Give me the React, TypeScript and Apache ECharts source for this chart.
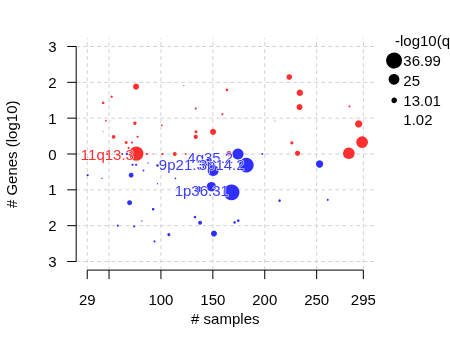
import React, { useEffect, useRef } from "react";
import * as echarts from "echarts";

// ---- data ----
const xTicks = [29, 50, 100, 150, 200, 250, 295];
const xTickLabels = ["29", "", "100", "150", "200", "250", "295"];
const yTicks = [-3, -2, -1, 0, 1, 2, 3];
const yTickLabels = ["3", "2", "1", "0", "1", "2", "3"];

// amplifications (red): # samples, log10(# genes), -log10(q)
const ampX = [76, 122, 52.5, 44.4, 133.5, 159.2, 47, 74.9, 100.8, 44.4, 150.2, 133.8, 54.4, 77.5, 133.5, 66.5, 72, 76.3, 86.4, 92.5, 101.5, 113.3, 123.9, 68.8, 223.6, 233.8, 233.5, 163.6, 209.8, 281.6, 290.5, 293.8, 226.1, 231.6, 281, 165.5, 48.4];
const ampY = [1.88, 1.91, 1.6, 1.43, 1.27, 1.11, 0.93, 0.86, 0.8, 0.62, 0.62, 0.62, 0.48, 0.48, 0.48, 0.32, 0.32, 0.01, 0, 0, 0, 0, 0, 0.17, 2.15, 1.71, 1.31, 1.79, 0.92, 1.33, 0.84, 0.33, 0.31, 0.02, 0.02, 0.02, 0];
const ampQ = [14, 2.5, 5.5, 6, 5, 5, 4, 8, 4, 2, 14, 7, 8.5, 5, 10, 7, 5, 33, 5, 2.5, 5, 9, 4, 5, 13, 15, 14, 6, 1.5, 5, 17, 27, 7, 12, 27, 11, 5];

// deletions (blue): # samples, -log10(# genes), -log10(q)
const delX = [67.2, 57.6, 62.7, 72.7, 76.1, 83.2, 87.6, 29.4, 43.1, 71.3, 96.7, 96.7, 114, 69.8, 92.5, 81.6, 58.5, 74.2, 93.8, 107.6, 132.8, 137.7, 151.1, 136, 148.6, 168, 182.3, 174.2, 150.2, 145.6, 171, 174.5, 214.3, 260.7, 252.8, 197.6, 165.5];
const delY = [0, 0, 0, -0.3, -0.3, -0.46, -0.25, -0.59, -0.68, -0.59, -0.32, -0.83, -0.68, -1.36, -1.54, -1.87, -2.0, -2.02, -2.44, -2.25, -1.76, -1.92, -2.22, -0.98, -0.91, -1.07, -0.31, 0, -0.46, -0.23, -1.91, -1.86, -1.3, -1.28, -0.28, 0, 0];
const delQ = [5, 4, 4, 5, 5, 4, 3, 5, 3, 11, 6, 3, 3.5, 11.5, 6, 3, 5, 5, 5, 7, 6, 9, 14, 14, 22, 36.99, 34, 26, 26, 18, 6, 6, 6, 5, 17, 4, 5];

// peak labels
const ampLabels = ["11q13.3"];
const ampLabelX = [48.4];
const ampLabelY = [0];
const delLabels = ["4q35.2", "9p21.3", "3p14.2", "1p36.31"];
const delLabelX = [147.5, 120.1, 158.5, 139.3];
const delLabelY = [-0.11, -0.29, -0.29, -1.02];

const legendValues = [36.99, 25, 13.01, 1.02];
const legendLabels = ["36.99", "25", "13.01", "1.02"];

// ---- styling ----
const X_MIN = 18.36, X_MAX = 305.64, Y_MIN = -3.24, Y_MAX = 3.24;
const RED = "#ff2f2f";
const BLUE = "#2f2fff";
const FONT = "Liberation Sans, Arial, sans-serif";
const FS = 15;
const sizeOf = (v: number) => Math.max(1, 0.43 * v);

export default function App() {
  const ref = useRef<HTMLDivElement>(null);
  useEffect(() => {
    if (!ref.current) return;
    const chart = echarts.init(ref.current, undefined, { renderer: "svg" });

    const amp = ampX.map((x, i) => [x, ampY[i], ampQ[i]]);
    const del = delX.map((x, i) => [x, delY[i], delQ[i]]);
    const labelData = [
      ...ampLabels.map((n, i) => [ampLabelX[i], ampLabelY[i], n, RED]),
      ...delLabels.map((n, i) => [delLabelX[i], delLabelY[i], n, "#3c3cff"]),
    ];

    const frame = (params: any, api: any) => {
      const children: any[] = [];
      const gridStyle = { stroke: "#d3d3d3", lineWidth: 1, lineDash: [4, 3] };
      yTicks.forEach((t) => {
        const a = api.coord([X_MIN, t]);
        const b = api.coord([X_MAX, t]);
        children.push({ type: "line", shape: { x1: a[0], y1: a[1], x2: b[0], y2: b[1] }, style: gridStyle });
      });
      xTicks.forEach((t) => {
        const a = api.coord([t, Y_MIN]);
        const b = api.coord([t, Y_MAX]);
        children.push({ type: "line", shape: { x1: a[0], y1: a[1], x2: b[0], y2: b[1] }, style: gridStyle });
      });
      const axisStyle = { stroke: "#000", lineWidth: 1 };
      // y axis
      const ya = api.coord([X_MIN, yTicks[0]]);
      const yb = api.coord([X_MIN, yTicks[yTicks.length - 1]]);
      children.push({ type: "line", shape: { x1: ya[0], y1: ya[1], x2: yb[0], y2: yb[1] }, style: axisStyle });
      yTicks.forEach((t, i) => {
        const p = api.coord([X_MIN, t]);
        children.push({ type: "line", shape: { x1: p[0] - 9, y1: p[1], x2: p[0], y2: p[1] }, style: axisStyle });
        children.push({
          type: "text",
          x: p[0] - 19.5,
          y: p[1],
          style: { text: yTickLabels[i], align: "right", verticalAlign: "middle", font: `${FS}px ${FONT}`, fill: "#000" },
        });
      });
      // x axis
      const xa = api.coord([xTicks[0], Y_MIN]);
      const xb = api.coord([xTicks[xTicks.length - 1], Y_MIN]);
      children.push({ type: "line", shape: { x1: xa[0], y1: xa[1], x2: xb[0], y2: xb[1] }, style: axisStyle });
      xTicks.forEach((t, i) => {
        const p = api.coord([t, Y_MIN]);
        children.push({ type: "line", shape: { x1: p[0], y1: p[1], x2: p[0], y2: p[1] + 9 }, style: axisStyle });
        if (xTickLabels[i]) {
          children.push({
            type: "text",
            x: p[0],
            y: p[1] + 29.5,
            style: { text: xTickLabels[i], align: "center", verticalAlign: "middle", font: `${FS}px ${FONT}`, fill: "#000" },
          });
        }
      });
      return { type: "group", children };
    };

    const legendY = [59.3, 79.3, 99.3, 118.3];
    const graphic: any[] = [
      {
        type: "text", x: 225.3, y: 318,
        style: { text: "# samples", align: "center", verticalAlign: "middle", font: `${FS}px ${FONT}`, fill: "#000" },
      },
      {
        type: "text", x: 11.5, y: 154.3, rotation: Math.PI / 2,
        style: { text: "# Genes (log10)", align: "center", verticalAlign: "middle", font: `${FS}px ${FONT}`, fill: "#000" },
      },
      {
        type: "text", x: 395, y: 40,
        style: { text: "-log10(qvalue)", align: "left", verticalAlign: "middle", font: `${FS}px ${FONT}`, fill: "#000" },
      },
    ];
    legendValues.forEach((v, i) => {
      graphic.push({ type: "circle", shape: { cx: 394, cy: legendY[i], r: sizeOf(v) / 2 }, style: { fill: "#000" } });
      graphic.push({
        type: "text", x: 403.3, y: legendY[i] + 1,
        style: { text: legendLabels[i], align: "left", verticalAlign: "middle", font: `${FS}px ${FONT}`, fill: "#000" },
      });
    });

    chart.setOption({
      animation: false,
      grid: { left: 76.2, right: 75.6, top: 37.9, bottom: 76.9 },
      xAxis: { type: "value", min: X_MIN, max: X_MAX, show: false },
      yAxis: { type: "value", min: Y_MIN, max: Y_MAX, show: false },
      graphic,
      series: [
        { type: "custom", data: [[0, 0]], renderItem: frame, z: 0, silent: true, clip: false },
        {
          type: "scatter", data: amp, z: 2, symbol: "circle",
          symbolSize: (d: number[]) => sizeOf(d[2]),
          itemStyle: { color: RED, opacity: 1 },
        },
        {
          type: "scatter", data: del, z: 3, symbol: "circle",
          symbolSize: (d: number[]) => sizeOf(d[2]),
          itemStyle: { color: BLUE, opacity: 1 },
        },
        {
          type: "custom", data: labelData, z: 5, silent: true, clip: false,
          renderItem: (params: any, api: any) => {
            const d = labelData[params.dataIndex];
            const p = api.coord([d[0], d[1]]);
            return {
              type: "text", x: p[0], y: p[1],
              style: {
                text: d[2], align: "center", verticalAlign: "middle",
                font: `${FS}px ${FONT}`, fill: d[3],
                stroke: "#ffffff", lineWidth: 1,
              },
            };
          },
        },
      ],
    });
    return () => chart.dispose();
  }, []);
  return <div ref={ref} style={{ position: "fixed", left: 0, top: 0, width: 450, height: 347 }} />;
}
